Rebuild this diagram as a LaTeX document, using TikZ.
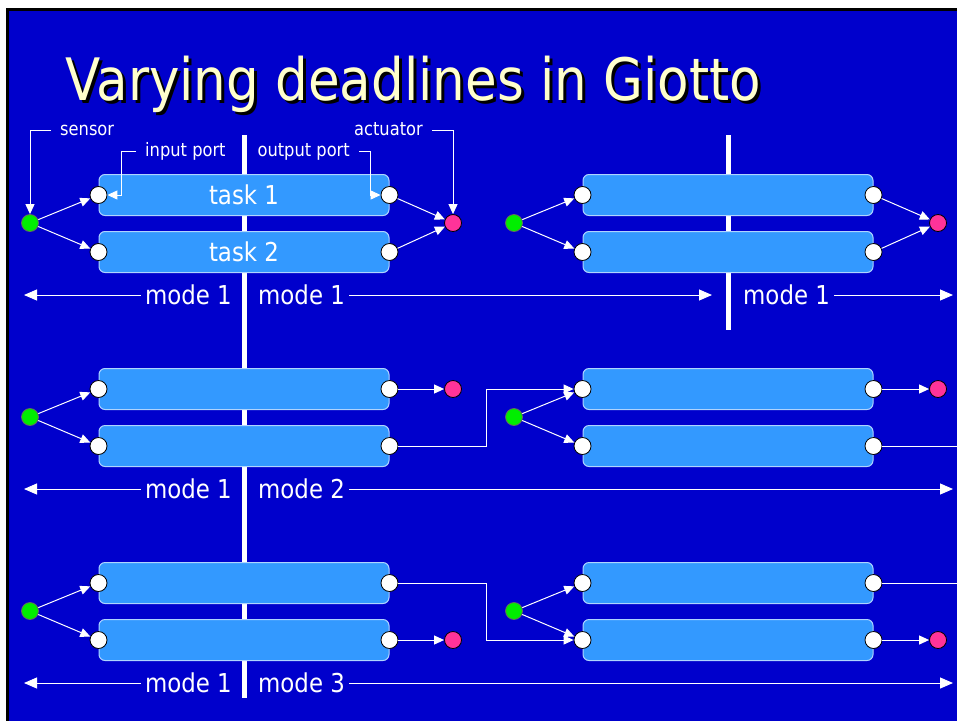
\documentclass[tikz,border=0pt]{standalone}
\usepackage{fontspec}
\setmainfont{DejaVu Sans}[FakeStretch=0.88]
\usetikzlibrary{arrows.meta}

\definecolor{slideblue}{RGB}{0,0,204}
\definecolor{taskblue}{RGB}{51,153,255}
\definecolor{taskedge}{RGB}{175,212,255}
\definecolor{titleyellow}{RGB}{255,255,204}
\definecolor{sensgreen}{RGB}{0,238,0}
\definecolor{actpink}{RGB}{255,51,153}

\newcommand{\bigfont}{\fontsize{26}{30}\selectfont}
\newcommand{\smallfont}{\fontsize{18.5}{22}\selectfont}
\newcommand{\titlefont}{\fontsize{58.5}{66}\selectfont}

\tikzset{
    task/.style={draw=taskedge, line width=1pt, fill=taskblue, rounded corners=6pt,
        minimum width=290pt, minimum height=41pt, inner sep=0pt, text=white,
        font=\bigfont, text height=19pt, text depth=0pt},
    port/.style={circle, draw=black, line width=0.8pt, fill=white,
        minimum size=17pt, inner sep=0pt},
    sens/.style={port, fill=sensgreen, draw=black!60},
    act/.style={port, fill=actpink},
    flow/.style={white, line width=1pt, -{Triangle[length=10pt,width=9pt]}},
    wire/.style={white, line width=1pt},
    modetxt/.style={text=white, font=\bigfont, inner xsep=4pt, inner ysep=0pt,
        text height=19pt, text depth=0pt},
    modeline/.style={white, line width=1pt, -{Triangle[length=13pt,width=11pt]}},
    lbl/.style={text=white, font=\smallfont, inner xsep=9pt, inner ysep=0pt,
        text height=10pt, text depth=0pt},
    bar/.style={white, line width=5pt}
}

\begin{document}
\begin{tikzpicture}[x=1pt, y=-1pt]
    \useasboundingbox (0,0) rectangle (957,720);
    \clip (0,0) rectangle (957,720);

    % Slide background and frame
    \fill[white] (0,0) rectangle (957,720);
    \fill[black] (6,8) rectangle (960,724);
    \fill[slideblue] (9,11) rectangle (960,724);

    % Title with drop shadow
    \node[anchor=base west, inner sep=0pt, font=\titlefont, text=black]
        (title-shadow) at (68,103) {Varying deadlines in Giotto};
    \node[anchor=base west, inner sep=0pt, font=\titlefont, text=titleyellow]
        (title) at (65,100) {Varying deadlines in Giotto};

    % Mode switch instants
    \draw[bar] (244,135) -- (244,698);
    \draw[bar] (728,135) -- (728,330);

    % Tasks, ports, sensors and actuators of each row
    \foreach \r in {0,1,2} {
        \foreach \h/\dx in {a/0, b/484} {
            \node[task] (task-\r-\h-1) at (244+\dx, 195+194*\r) {};
            \node[task] (task-\r-\h-2) at (244+\dx, 252+194*\r) {};
            \foreach \t in {1,2} {
                \node[port] (in-\r-\h-\t) at (task-\r-\h-\t.west) {};
                \node[port] (out-\r-\h-\t) at (task-\r-\h-\t.east) {};
            }
            \node[sens] (sen-\r-\h) at (30+\dx, 223+194*\r) {};
            \draw[flow] (sen-\r-\h) -- (in-\r-\h-1);
            \draw[flow] (sen-\r-\h) -- (in-\r-\h-2);
        }
        % Mode labels around the left switch
        \node[modetxt, anchor=east] (mode-\r-a) at (236, 295+194*\r) {mode 1};
        \coordinate (lend-\r) at (24, 295+194*\r);
        \coordinate (rend-\r) at (953, 295+194*\r);
        \draw[modeline] (mode-\r-a.west) -- (lend-\r);
    }

    \node at (task-0-a-1) [text=white, font=\bigfont, text height=19pt, text depth=0pt] (name-1) {task 1};
    \node at (task-0-a-2) [text=white, font=\bigfont, text height=19pt, text depth=0pt] (name-2) {task 2};

    % Row 1: both tasks write the actuator
    \foreach \h/\dx in {a/0, b/485} {
        \node[act] (act-0-\h) at (453+\dx, 223) {};
        \draw[flow] (out-0-\h-1) -- (act-0-\h);
        \draw[flow] (out-0-\h-2) -- (act-0-\h);
    }
    \node[modetxt, anchor=west] (mode-0-b) at (254, 295) {mode 1};
    \coordinate (mid-0) at (712, 295);
    \draw[modeline] (mode-0-b.east) -- (mid-0);
    \node[modetxt, anchor=west] (mode-0-c) at (739, 295) {mode 1};
    \draw[modeline] (mode-0-c.east) -- (rend-0);

    % Row 2: task 2 runs on into the next period
    \foreach \h/\dx in {a/0, b/485} {
        \node[act] (act-1-\h) at (453+\dx, 389) {};
        \draw[flow] (out-1-\h-1) -- (act-1-\h);
    }
    \draw[flow] (out-1-a-2) -- ++(97,0) |- (in-1-b-1);
    \coordinate (edge-1) at (957, 446);
    \draw[wire] (out-1-b-2) -- (edge-1);
    \node[modetxt, anchor=west] (mode-1-b) at (254, 489) {mode 2};
    \draw[modeline] (mode-1-b.east) -- (rend-1);

    % Row 3: task 1 runs on into the next period
    \foreach \h/\dx in {a/0, b/485} {
        \node[act] (act-2-\h) at (453+\dx, 640) {};
        \draw[flow] (out-2-\h-2) -- (act-2-\h);
    }
    \draw[flow] (out-2-a-1) -- ++(97,0) |- (in-2-b-2);
    \coordinate (edge-2) at (957, 583);
    \draw[wire] (out-2-b-1) -- (edge-2);
    \node[modetxt, anchor=west] (mode-2-b) at (254, 683) {mode 3};
    \draw[modeline] (mode-2-b.east) -- (rend-2);

    % Callouts for the parts of the first row
    \node[lbl, anchor=west] (l-sensor) at (51,130) {sensor};
    \draw[flow] (l-sensor.west) -| (sen-0-a.north);
    \node[lbl, anchor=west] (l-input) at (136,151) {input port};
    \draw[flow] (l-input.west) -- ++(-15,0) |- (in-0-a-1.east);
    \node[lbl, anchor=east] (l-output) at (359,151) {output port};
    \draw[flow] (l-output.east) -- ++(11,0) |- (out-0-a-1.west);
    \node[lbl, anchor=east] (l-actuator) at (432,130) {actuator};
    \draw[flow] (l-actuator.east) -| (act-0-a.north);
\end{tikzpicture}
\end{document}
